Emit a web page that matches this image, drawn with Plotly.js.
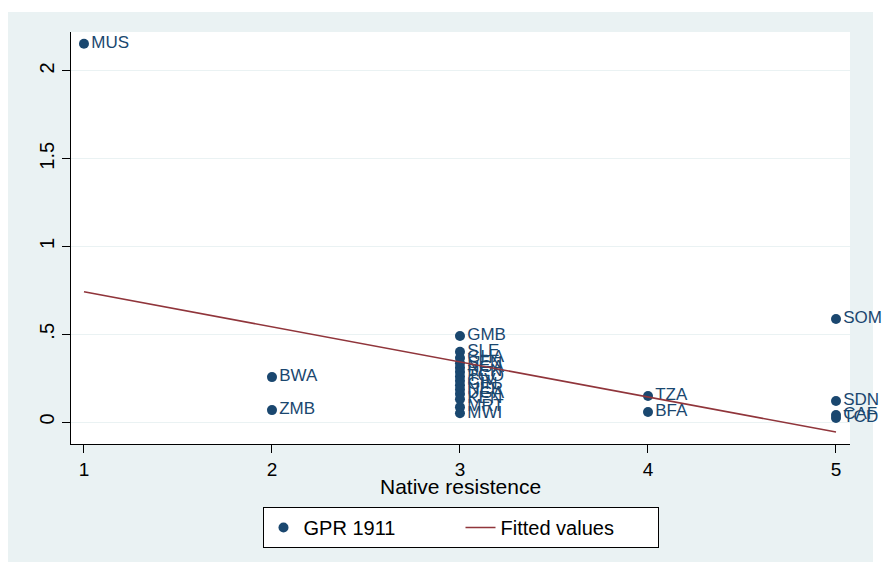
<!DOCTYPE html>
<html>
<head>
<meta charset="utf-8">
<script src="https://cdn.plot.ly/plotly-3.0.1.min.js"></script>
<style>html,body{margin:0;padding:0;background:#fff;}#chart{width:885px;height:562px;}</style>
</head>
<body>
<div id="chart"></div>
<script>
// Native resistance (x) and GPR 1911 (y), with country codes
var countries = ["MUS","BWA","ZMB","GMB","SLE","GHA","SEN","NGA","BEN","TGO","CIV","GIN","NER","UGA","KEN","MRT","MWI","TZA","BFA","SOM","SDN","CAF","TCD"];
var resistance = [1,2,2,3,3,3,3,3,3,3,3,3,3,3,3,3,3,4,4,5,5,5,5];
var gpr1911 = [2.155,0.256,0.068,0.49,0.40,0.365,0.335,0.31,0.285,0.26,0.235,0.21,0.185,0.16,0.13,0.085,0.05,0.148,0.057,0.587,0.12,0.04,0.023];
// Fitted values
var fittedX = [1,5];
var fittedY = [0.742,-0.057];
var yTickVals = [0,0.5,1,1.5,2];
var yTickText = ["0",".5","1","1.5","2"];
var xTickVals = [1,2,3,4,5];

var navy = "#1a476f";
var traces = [
  {x: resistance, y: gpr1911, text: countries, type: "scatter", mode: "markers+text",
   name: "GPR 1911", textposition: "middle right",
   marker: {color: navy, size: 10},
   textfont: {family: "Liberation Sans, Arial, sans-serif", size: 17, color: navy},
   cliponaxis: false},
  {x: fittedX, y: fittedY, type: "scatter", mode: "lines", name: "Fitted values",
   line: {color: "#90353b", width: 1.5}}
];
var layout = {
  width: 885, height: 562,
  margin: {l: 71, r: 35, t: 32, b: 118},
  paper_bgcolor: "#ffffff", plot_bgcolor: "#ffffff",
  font: {family: "Liberation Sans, Arial, sans-serif", size: 16, color: "#000"},
  showlegend: true,
  legend: {orientation: "h", x: 0.5, xanchor: "center", y: -0.153, yanchor: "top",
    bgcolor: "#ffffff", bordercolor: "#000", borderwidth: 1,
    font: {size: 20, color: "#000"}, entrywidth: 152, traceorder: "normal"},
  xaxis: {range: [0.931, 5.0745], tickvals: xTickVals, showgrid: false, zeroline: false,
    showline: true, linecolor: "#000", linewidth: 1, ticks: "outside", ticklen: 8, tickcolor: "#000",
    tickfont: {size: 19}},
  yaxis: {range: [-0.125, 2.222], tickvals: yTickVals, ticktext: yTickText, tickangle: -90,
    showgrid: true, gridcolor: "#eaf2f3", gridwidth: 1, zeroline: false,
    showline: true, linecolor: "#000", linewidth: 1, ticks: "outside", ticklen: 8, tickcolor: "#000",
    tickfont: {size: 20}},
  annotations: [
    {text: "Native resistence", xref: "paper", yref: "paper", x: 0.5, y: -0.102,
     xanchor: "center", yanchor: "middle", showarrow: false, font: {size: 21, color: "#000"}}
  ],
  shapes: [
    {type: "rect", xref: "paper", yref: "paper", x0: -0.0809, x1: 1.0295, y0: -0.2864, y1: 1.0485,
     fillcolor: "#eaf2f3", line: {width: 0}, layer: "below"},
    {type: "rect", xref: "paper", yref: "paper", x0: 0, x1: 1, y0: 0, y1: 1,
     fillcolor: "#ffffff", line: {width: 0}, layer: "below"}
  ]
};
Plotly.newPlot("chart", traces, layout, {displayModeBar: false});
</script>
</body>
</html>
